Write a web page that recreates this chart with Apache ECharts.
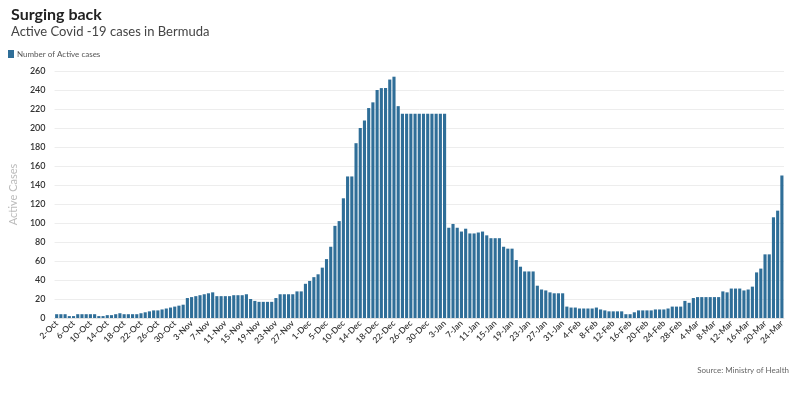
<!DOCTYPE html>
<html>
<head>
<meta charset="utf-8">
<script src="https://cdn.jsdelivr.net/npm/echarts@6/dist/echarts.min.js"></script>
<style>
html,body{margin:0;padding:0;background:#fff;}
#chart{width:799px;height:398px;}
</style>
</head>
<body>
<div id="chart"></div>
<script>
// Dates shown on the category axis (one date in early December is absent from the source data)
var octDays = [2,3,4,5,6,7,8,9,10,11,12,13,14,15,16,17,18,19,20,21,22,23,24,25,26,27,28,29,30,31];
var novDays = [1,2,3,4,5,6,7,8,9,10,11,12,13,14,15,16,17,18,19,20,21,22,23,24,25,26,27,28,29,30];
var decDays = [1,2,3,4,5,6,7,9,10,11,12,13,14,15,16,17,18,19,20,21,22,23,24,25,26,27,28,29,30,31];
var janDays = [1,2,3,4,5,6,7,8,9,10,11,12,13,14,15,16,17,18,19,20,21,22,23,24,25,26,27,28,29,30,31];
var febDays = [1,2,3,4,5,6,7,8,9,10,11,12,13,14,15,16,17,18,19,20,21,22,23,24,25,26,27,28];
var marDays = [1,2,3,4,5,6,7,8,9,10,11,12,13,14,15,16,17,18,19,20,21,22,23,24];

// Number of active cases per day
var octValues = [4,4,4,2,2,4,4,4,4,4,2,2,3,3,4,5,4,4,4,4,5,6,7,8,8,9,10,11,12,13];
var novValues = [14,21,22,23,24,25,26,27,23,23,23,23,24,24,24,25,20,18,17,17,17,17,21,25,25,25,25,28,28,36];
var decValues = [39,43,46,53,62,75,97,102,126,149,149,184,200,208,221,227,240,242,242,251,254,223,215,215,215,215,215,215,215,215];
var janValues = [215,215,215,95,99,95,91,94,89,89,90,91,87,84,84,84,75,73,73,61,54,49,49,49,34,30,29,27,26,26,26];
var febValues = [12,11,11,10,10,10,10,11,9,8,7,7,7,7,4,4,6,8,8,8,8,9,9,9,10,12,12,12];
var marValues = [18,16,21,22,22,22,22,22,22,28,27,31,31,31,29,30,33,48,52,67,67,106,113,150];

var yTicks = {min:0, max:260, interval:20};

function lab(days, m){ return days.map(function(d){ return d + '-' + m; }); }
var categories = [].concat(lab(octDays,'Oct'), lab(novDays,'Nov'), lab(decDays,'Dec'),
                           lab(janDays,'Jan'), lab(febDays,'Feb'), lab(marDays,'Mar'));
var activeCases = [].concat(octValues, novValues, decValues, janValues, febValues, marValues);

var FONT = 'Lato, "Source Sans Pro", "Noto Sans", sans-serif';
var chart = echarts.init(document.getElementById('chart'));
chart.setOption({
  animation:false,
  backgroundColor:'#ffffff',
  textStyle:{fontFamily:FONT},
  title:[
    {text:'Surging back', left:6, top:2, textStyle:{fontFamily:FONT, fontSize:16, fontWeight:'bold', color:'#222'}},
    {text:'Active Covid -19 cases in Bermuda', left:6, top:20, textStyle:{fontFamily:FONT, fontSize:13, fontWeight:'normal', color:'#444'}},
    {text:'Source: Ministry of Health', right:5, top:361, textStyle:{fontFamily:FONT, fontSize:8, fontWeight:'normal', color:'#666'}}
  ],
  legend:{
    left:3, top:45, icon:'rect', itemWidth:6, itemHeight:8, itemGap:4,
    textStyle:{fontFamily:FONT, fontSize:8, color:'#555', padding:[0,0,0,-2]},
    data:['Number of Active cases']
  },
  grid:{left:53, right:15, top:71, bottom:80, containLabel:false},
  xAxis:{
    type:'category',
    data:categories,
    boundaryGap:true,
    axisLine:{show:true, lineStyle:{color:'#e2e2e2'}},
    axisTick:{show:false},
    axisLabel:{interval:3, rotate:45, fontSize:8.5, fontWeight:600, color:'#333', margin:4, fontFamily:FONT}
  },
  yAxis:{
    type:'value',
    min:yTicks.min, max:yTicks.max, interval:yTicks.interval,
    name:'Active Cases', nameLocation:'middle', nameGap:27,
    nameTextStyle:{fontFamily:FONT, fontSize:11, color:'#bbb'},
    axisLine:{show:false}, axisTick:{show:false},
    axisLabel:{fontSize:9, fontWeight:600, color:'#333', margin:9, fontFamily:FONT},
    splitLine:{lineStyle:{color:'#ededed', width:1}}
  },
  series:[{
    name:'Number of Active cases',
    type:'bar',
    data:activeCases,
    barCategoryGap:'26%',
    itemStyle:{color:'#2f6e98'}
  }]
});
</script>
</body>
</html>
